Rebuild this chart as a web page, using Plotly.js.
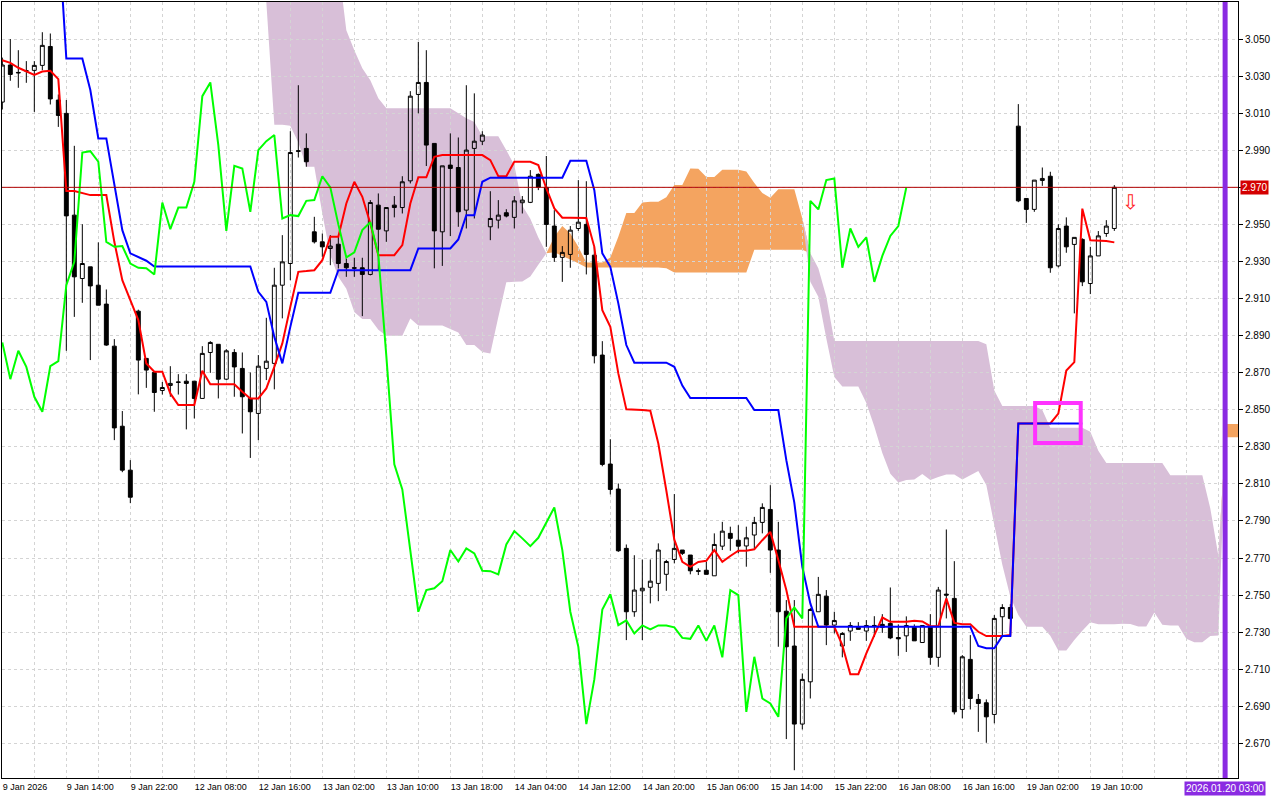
<!DOCTYPE html>
<html>
<head>
<meta charset="utf-8">
<script src="https://cdn.plot.ly/plotly-3.0.1.min.js"></script>
<style>
html,body{margin:0;padding:0;background:#fff;}
#chart{width:1280px;height:800px;}
</style>
</head>
<body>
<div id="chart"></div>
<script>
// ---------- data (H1 bars, index 0 = 9 Jan 2026) ----------
const timeLabels = ["9 Jan 2026","9 Jan 14:00","9 Jan 22:00","12 Jan 08:00","12 Jan 16:00","13 Jan 02:00",
  "13 Jan 10:00","13 Jan 18:00","14 Jan 04:00","14 Jan 12:00","14 Jan 20:00","15 Jan 06:00",
  "15 Jan 14:00","15 Jan 22:00","16 Jan 08:00","16 Jan 16:00","19 Jan 02:00","19 Jan 10:00"];

const priceTicks = [2.67,2.69,2.71,2.73,2.75,2.77,2.79,2.81,2.83,2.85,2.87,2.89,2.91,2.93,2.95,2.97,2.99,3.01,3.03,3.05];
// 2.970 is shown by the red current-price label instead of a plain tick label
const priceTickText = ["2.670","2.690","2.710","2.730","2.750","2.770","2.790","2.810","2.830","2.850","2.870","2.890","2.910","2.930","2.950","","2.990","3.010","3.030","3.050"];

const openP = [
 3.016,3.036,3.032,3.0329,3.0331,3.0358,3.0460,3.0171,3.0099,2.9550,
 2.9208,2.9271,2.9172,2.9070,2.8843,2.8411,2.8174,2.9032,2.8777,2.8701,
 2.8604,2.8631,2.8650,2.8654,2.8654,2.8561,2.8809,2.8853,2.8665,2.8809,
 2.8723,2.8561,2.8480,2.8723,2.8750,2.9172,2.9289,2.9897,2.9910,2.9460,
 2.9406,2.9370,2.9393,2.9289,2.9266,2.9266,2.9230,2.9604,2.9465,2.9604,
 2.9591,2.9735,3.0201,3.0266,2.9937,2.9460,2.9820,2.9807,2.9577,2.9910,
 2.9949,2.9487,2.9523,2.9563,2.9538,2.9617,2.9619,2.9770,2.9700,2.9491,
 2.9322,2.9338,2.9478,2.9500,2.9334,2.8795,2.8207,2.8072,2.7752,2.7410,
 2.7523,2.7542,2.7563,2.7612,2.7692,2.7743,2.7716,2.7631,2.7634,2.7604,
 2.7764,2.7833,2.7796,2.7765,2.7824,2.7892,2.7962,2.7743,2.7413,2.7225,
 2.6804,2.7032,2.7410,2.7494,2.7338,2.7225,2.7306,2.7326,2.7306,2.7336,
 2.7342,2.7347,2.7271,2.7280,2.7326,2.7244,2.7329,2.7164,2.7505,2.7482,
 2.6883,2.7153,2.6937,2.6919,2.6856,2.7383,2.7433,3.0030,2.9640,2.9581,
 2.9737,2.9760,2.9276,2.9491,2.9392,2.9419,2.9181,2.9330,2.9451,2.9478];

const highP = [
 3.040,3.0500,3.0440,3.0381,3.0381,3.0537,3.0530,3.0201,3.0171,2.9924,
 2.9501,2.9271,2.9403,2.9149,2.8881,2.8493,2.8228,2.9040,2.8777,2.8701,
 2.8650,2.8735,2.8692,2.8692,2.8654,2.8843,2.8870,2.8853,2.8827,2.8827,
 2.8809,2.8701,2.8795,2.8996,2.9266,2.9442,3.0003,3.0251,2.9991,2.9541,
 2.9451,2.9442,2.9433,2.9316,2.9320,2.9320,2.9631,2.9667,2.9591,2.9653,
 2.9760,3.0219,3.0485,3.0440,2.9937,2.9816,2.9991,2.9969,3.0251,3.0207,
 3.0003,2.9679,2.9631,2.9582,2.9653,2.9653,2.9793,2.9775,2.9869,2.9577,
 2.9383,2.9491,2.9739,2.9733,2.9379,2.8870,2.8341,2.8102,2.7773,2.7715,
 2.7692,2.7692,2.7779,2.7690,2.8045,2.7743,2.7716,2.7644,2.7679,2.7833,
 2.7895,2.7869,2.7877,2.7869,2.7922,2.7995,2.8093,2.7895,2.7473,2.7473,
 2.7077,2.7430,2.7598,2.7527,2.7410,2.7300,2.7354,2.7354,2.7365,2.7386,
 2.7397,2.7541,2.7342,2.7385,2.7342,2.7336,2.7397,2.7544,2.7854,2.7683,
 2.7176,2.7284,2.6966,2.6937,2.7392,2.7451,2.7451,3.0149,2.9640,2.9739,
 2.9807,2.9784,2.9501,2.9538,2.9430,2.9425,2.9379,2.9464,2.9523,2.9712];

const lowP = [
 3.012,3.0275,3.0237,3.0264,3.0107,3.0332,3.0147,3.0026,2.8818,2.9001,
 2.9077,2.8768,2.9064,2.8845,2.8336,2.8163,2.7996,2.8583,2.8618,2.8489,
 2.8582,2.8570,2.8582,2.8394,2.8453,2.8561,2.8699,2.8561,2.8660,2.8570,
 2.8372,2.8240,2.8336,2.8660,2.8610,2.8993,2.9199,2.9861,2.9811,2.9397,
 2.9325,2.9280,2.9262,2.9217,2.9217,2.9005,2.9225,2.9253,2.9406,2.9538,
 2.9559,2.9721,3.0099,2.9815,2.9263,2.9276,2.9437,2.9487,2.9478,2.9532,
 2.9928,2.9415,2.9478,2.9538,2.9478,2.9559,2.9615,2.9685,2.9379,2.9298,
 2.9190,2.9266,2.9465,2.9230,2.8750,2.8195,2.8043,2.7733,2.7257,2.7383,
 2.7257,2.7455,2.7467,2.7523,2.7671,2.7716,2.7612,2.7608,2.7612,2.7604,
 2.7743,2.7739,2.7725,2.7653,2.7748,2.7833,2.7620,2.7221,2.6723,2.6555,
 2.6775,2.6942,2.7410,2.7230,2.7293,2.7164,2.7253,2.7315,2.7253,2.7274,
 2.7296,2.7262,2.7172,2.7193,2.7253,2.7244,2.7124,2.7113,2.7374,2.6856,
 2.6835,2.6883,2.6762,2.6703,2.6808,2.7274,2.7365,2.9620,2.9508,2.9568,
 2.9708,2.9239,2.9268,2.9347,2.9020,2.9167,2.9124,2.9330,2.9433,2.9465];

const closeP = [
 3.0360,3.0309,3.0318,3.0329,3.0358,3.0466,3.0177,3.0088,2.9546,2.9217,
 2.9289,2.9168,2.9064,2.8849,2.8402,2.8174,2.8028,2.8768,2.8714,2.8593,
 2.8620,2.8642,2.8648,2.8642,2.8561,2.8804,2.8863,2.8665,2.8818,2.8731,
 2.8570,2.8489,2.8735,2.8762,2.9172,2.9298,2.9888,2.9895,2.9838,2.9406,
 2.9379,2.9383,2.9289,2.9266,2.9264,2.9230,2.9618,2.9474,2.9591,2.9591,
 2.9730,3.0192,3.0266,2.9928,2.9465,2.9816,2.9802,2.9568,2.9901,2.9949,
 2.9982,2.9532,2.9550,2.9545,2.9627,2.9631,2.9760,2.9700,2.9500,2.9322,
 2.9349,2.9469,2.9512,2.9338,2.8791,2.8205,2.8070,2.7739,2.7410,2.7527,
 2.7537,2.7575,2.7743,2.7681,2.7752,2.7725,2.7631,2.7629,2.7612,2.7773,
 2.7845,2.7806,2.7764,2.7809,2.7892,2.7973,2.7743,2.7410,2.7221,2.6804,
 2.7045,2.7422,2.7504,2.7338,2.7363,2.7293,2.7336,2.7315,2.7336,2.7336,
 2.7326,2.7269,2.7264,2.7336,2.7253,2.7336,2.7164,2.7527,2.7500,2.6870,
 2.7167,2.6942,2.6915,2.6843,2.7374,2.7433,2.7374,2.9627,2.9581,2.9739,
 2.9748,2.9266,2.9478,2.9379,2.9430,2.9190,2.9330,2.9438,2.9491,2.9700];

// Tenkan-sen (red), one value per bar 0..139
const tenkan = [
 3.0386,3.0372,3.0345,3.0327,3.0307,3.0325,3.0329,3.0284,2.9680,2.9680,
 2.9668,2.9658,2.9658,2.9658,2.9406,2.9199,2.9091,2.8984,2.8750,2.8705,
 2.8705,2.8588,2.8525,2.8525,2.8525,2.8710,2.8637,2.8637,2.8637,2.8637,
 2.8597,2.8561,2.8561,2.8615,2.8731,2.8858,2.9055,2.9244,2.9248,2.9253,
 2.9307,2.9433,2.9433,2.9613,2.9730,2.9649,2.9505,2.9334,2.9334,2.9334,
 2.9388,2.9613,2.9754,2.9754,2.9865,2.9874,2.9874,2.9874,2.9874,2.9874,
 2.9874,2.9847,2.9760,2.9760,2.9838,2.9838,2.9838,2.9820,2.9694,2.9586,
 2.9536,2.9536,2.9536,2.9534,2.9379,2.9037,2.8947,2.8696,2.8502,2.8498,
 2.8498,2.8495,2.8318,2.8064,2.7799,2.7679,2.7652,2.7679,2.7685,2.7743,
 2.7679,2.7711,2.7739,2.7739,2.7747,2.7796,2.7841,2.7689,2.7527,2.7329,
 2.7329,2.7329,2.7329,2.7329,2.7329,2.7230,2.7073,2.7073,2.7185,2.7284,
 2.7379,2.7356,2.7356,2.7356,2.7361,2.7358,2.7332,2.7332,2.7482,2.7350,
 2.7343,2.7343,2.7302,2.7279,2.7279,2.7279,2.7285,2.8426,2.8426,2.8426,
 2.8426,2.8426,2.8479,2.8712,2.8757,2.9585,2.9414,2.9414,2.9411,2.9403];

// Kijun-sen (blue), bars 0..135
const kijun = [
 3.1100,3.1100,3.1100,3.1100,3.1100,3.1100,3.1100,3.1100,3.0395,3.0395,
 3.0395,3.0225,2.9964,2.9964,2.9712,2.9469,2.9344,2.9322,2.9304,2.9273,
 2.9273,2.9273,2.9273,2.9273,2.9273,2.9273,2.9273,2.9273,2.9273,2.9273,
 2.9273,2.9273,2.9136,2.9082,2.8893,2.8750,2.8947,2.9131,2.9131,2.9131,
 2.9131,2.9131,2.9253,2.9253,2.9253,2.9253,2.9253,2.9253,2.9253,2.9253,
 2.9253,2.9253,2.9370,2.9370,2.9370,2.9370,2.9370,2.9419,2.9550,2.9550,
 2.9730,2.9752,2.9752,2.9752,2.9752,2.9752,2.9752,2.9752,2.9752,2.9752,
 2.9752,2.9843,2.9843,2.9843,2.9685,2.9344,2.9271,2.9074,2.8849,2.8754,
 2.8754,2.8754,2.8754,2.8754,2.8732,2.8630,2.8563,2.8563,2.8563,2.8563,
 2.8563,2.8563,2.8563,2.8563,2.8498,2.8498,2.8498,2.8498,2.8228,2.7999,
 2.7652,2.7455,2.7329,2.7329,2.7329,2.7329,2.7329,2.7329,2.7329,2.7329,
 2.7329,2.7329,2.7329,2.7329,2.7329,2.7329,2.7329,2.7329,2.7329,2.7329,
 2.7329,2.7329,2.7225,2.7213,2.7213,2.7279,2.7279,2.8426,2.8426,2.8426,
 2.8426,2.8426,2.8426,2.8426,2.8426,2.8426];

// Chikou span (lime), bars 0..113
const chikou = [
 2.8863,2.8665,2.8818,2.8731,2.8570,2.8489,2.8735,2.8762,2.9172,2.9298,
 2.9888,2.9895,2.9838,2.9406,2.9379,2.9383,2.9289,2.9266,2.9264,2.9230,
 2.9618,2.9474,2.9591,2.9591,2.9730,3.0192,3.0266,2.9928,2.9465,2.9816,
 2.9802,2.9568,2.9901,2.9949,2.9982,2.9532,2.9550,2.9545,2.9627,2.9631,
 2.9760,2.9700,2.9500,2.9322,2.9349,2.9469,2.9512,2.9338,2.8791,2.8205,
 2.8070,2.7739,2.7410,2.7527,2.7537,2.7575,2.7743,2.7681,2.7752,2.7725,
 2.7631,2.7629,2.7612,2.7773,2.7845,2.7806,2.7764,2.7809,2.7892,2.7973,
 2.7743,2.7410,2.7221,2.6804,2.7045,2.7422,2.7504,2.7338,2.7363,2.7293,
 2.7336,2.7315,2.7336,2.7336,2.7326,2.7269,2.7264,2.7336,2.7253,2.7336,
 2.7164,2.7527,2.7500,2.6870,2.7167,2.6942,2.6915,2.6843,2.7374,2.7433,
 2.7374,2.9627,2.9581,2.9739,2.9748,2.9266,2.9478,2.9379,2.9430,2.9190,
 2.9330,2.9438,2.9491,2.9700];

// Kumo: Senkou span A and B, bars 30..155
const cloudStart = 30;
const senkouA = [
 3.0704,3.0713,3.0715,3.0700,3.0038,3.0038,3.0032,2.9942,2.9811,2.9811,
 2.9559,2.9334,2.9218,2.9153,2.9027,2.8989,2.8989,2.8931,2.8899,2.8899,
 2.8899,2.8992,2.8955,2.8955,2.8955,2.8955,2.8935,2.8917,2.8849,2.8849,
 2.8812,2.8804,2.9001,2.9188,2.9190,2.9192,2.9219,2.9282,2.9343,2.9433,
 2.9492,2.9451,2.9379,2.9294,2.9294,2.9294,2.9321,2.9433,2.9562,2.9562,
 2.9618,2.9622,2.9622,2.9647,2.9712,2.9712,2.9802,2.9800,2.9756,2.9756,
 2.9795,2.9795,2.9795,2.9786,2.9723,2.9669,2.9644,2.9690,2.9690,2.9689,
 2.9532,2.9191,2.9109,2.8885,2.8676,2.8626,2.8626,2.8625,2.8536,2.8409,
 2.8266,2.8155,2.8108,2.8121,2.8124,2.8153,2.8121,2.8137,2.8151,2.8151,
 2.8123,2.8147,2.8170,2.8094,2.7878,2.7664,2.7491,2.7392,2.7329,2.7329,
 2.7329,2.7280,2.7201,2.7201,2.7257,2.7307,2.7354,2.7343,2.7343,2.7343,
 2.7345,2.7344,2.7331,2.7331,2.7406,2.7340,2.7336,2.7336,2.7264,2.7246,
 2.7246,2.7279,2.7282,2.8423,2.8423,2.8423];
const senkouB = [
 3.0900,3.0900,3.0900,3.0900,3.0900,3.0900,3.0900,3.0900,3.0900,3.0900,
 3.0900,3.0900,3.0900,3.0548,3.0440,3.0343,3.0278,3.0181,3.0127,3.0127,
 3.0127,3.0127,3.0127,3.0127,3.0127,3.0127,3.0127,3.0100,3.0073,3.0053,
 2.9976,2.9976,2.9976,2.9900,2.9820,2.9600,2.9530,2.9430,2.9345,2.9350,
 2.9330,2.9310,2.9290,2.9267,2.9267,2.9267,2.9267,2.9267,2.9267,2.9267,
 2.9267,2.9267,2.9267,2.9263,2.9241,2.9241,2.9241,2.9241,2.9241,2.9241,
 2.9241,2.9241,2.9241,2.9241,2.9363,2.9363,2.9363,2.9363,2.9363,2.9363,
 2.9363,2.9345,2.9264,2.9109,2.8871,2.8871,2.8871,2.8871,2.8871,2.8871,
 2.8871,2.8871,2.8871,2.8871,2.8871,2.8871,2.8871,2.8871,2.8871,2.8871,
 2.8871,2.8871,2.8871,2.8853,2.8604,2.8520,2.8520,2.8520,2.8520,2.8520,
 2.8498,2.8403,2.8403,2.8403,2.8403,2.8403,2.8381,2.8279,2.8212,2.8212,
 2.8212,2.8212,2.8212,2.8212,2.8212,2.8212,2.8147,2.8147,2.8147,2.8147,
 2.8147,2.7967,2.7713,2.8352,2.8352,2.8352];

const currentPrice = 2.970;

// ---------- build ----------
const idx = n => Array.from({length:n}, (_, i) => i);
const barX = idx(openP.length);
const cloudX = senkouA.map((_, i) => cloudStart + i);
const cloudTop = senkouA.map((a, i) => Math.max(a, senkouB[i]));

// closed area between a lower and an upper boundary, in data units of the x/y axes
function bandPath(xs, lower, upper) {
  let d = '';
  for (let i = 0; i < xs.length; i++) d += (i ? 'L' : 'M') + xs[i] + ',' + lower[i];
  for (let i = xs.length - 1; i >= 0; i--) d += 'L' + xs[i] + ',' + upper[i];
  return d + 'Z';
}

const gridVals = [], gridText = [];
for (let b = 0; b <= 152; b += 4) {
  gridVals.push(b);
  const k = b / 8;
  gridText.push(Number.isInteger(k) && k < timeLabels.length ? timeLabels[k] : "");
}

const traces = [
  {type:'candlestick', x:barX, open:openP, high:highP, low:lowP, close:closeP,
   increasing:{line:{color:'#000000', width:1}, fillcolor:'rgba(255,255,255,0)'},
   decreasing:{line:{color:'#000000', width:1}, fillcolor:'#000000'},
   whiskerwidth:0, hoverinfo:'skip', showlegend:false},
  {x:idx(tenkan.length), y:tenkan, mode:'lines', line:{color:'#FF0000', width:2}, hoverinfo:'skip', showlegend:false},
  {x:idx(kijun.length), y:kijun, mode:'lines', line:{color:'#0000FF', width:2}, hoverinfo:'skip', showlegend:false},
  {x:idx(chikou.length), y:chikou, mode:'lines', line:{color:'#00FF00', width:2}, hoverinfo:'skip', showlegend:false}
];

const gridStyle = {showgrid:true, gridcolor:'#d4d4d4', gridwidth:1, griddash:'3px,3px'};
const layout = {
  width:1280, height:800,
  margin:{l:2, r:42, t:2, b:22, pad:0},
  paper_bgcolor:'#ffffff', plot_bgcolor:'#ffffff',
  showlegend:false,
  font:{family:'Liberation Sans, Arial, sans-serif', size:10, color:'#000'},
  xaxis:Object.assign({
    type:'linear', range:[-0.04, 154.46], tickmode:'array', tickvals:gridVals, ticktext:gridText,
    ticklabelposition:'outside right', ticks:'', tickfont:{size:9},
    zeroline:false, showline:true, mirror:true, linecolor:'#000', linewidth:1,
    rangeslider:{visible:false}, fixedrange:true
  }, gridStyle),
  yaxis:Object.assign({
    side:'right', range:[2.6513, 3.0700], tickmode:'array', tickvals:priceTicks, ticktext:priceTickText,
    ticks:'outside', ticklen:4, tickcolor:'#000', tickfont:{size:10},
    zeroline:false, showline:true, mirror:true, linecolor:'#000', linewidth:1, fixedrange:true
  }, gridStyle),
  shapes:[
    // Kumo (sandy brown where span A is on top, thistle where span B is on top), under the grid
    {type:'path', xref:'x', yref:'y', layer:'below', path:bandPath(cloudX, senkouB, cloudTop),
     fillcolor:'#F4A460', line:{width:0}},
    {type:'path', xref:'x', yref:'y', layer:'below', path:bandPath(cloudX, senkouA, cloudTop),
     fillcolor:'#D8BFD8', line:{width:0}},
    {type:'line', xref:'paper', x0:0, x1:1, yref:'y', y0:currentPrice, y1:currentPrice, line:{color:'#b00000', width:1}},
    {type:'rect', xref:'x', x0:129.1, x1:134.8, yref:'y', y0:2.8320, y1:2.8536, line:{color:'#ff33ff', width:4}},
    {type:'line', xref:'x', x0:152.85, x1:152.85, yref:'paper', y0:0, y1:1, line:{color:'#8a2be2', width:5}}
  ],
  annotations:[
    {xref:'paper', x:1, xanchor:'left', xshift:2, yref:'y', y:currentPrice, text:'2.970', showarrow:false,
     bgcolor:'#d40000', font:{color:'#ffffff', size:10}, borderpad:1},
    {xref:'x', x:152.85, yref:'paper', y:0, yanchor:'top', yshift:-3, text:'2026.01.20 03:00', showarrow:false,
     bgcolor:'#8a2be2', font:{color:'#ffffff', size:10}, borderpad:1},
    {xref:'x', x:140.96, yref:'y', y:2.962, text:'⇩', showarrow:false, font:{color:'#ff2020', size:20, family:'DejaVu Sans'}}
  ]
};

Plotly.newPlot('chart', traces, layout, {staticPlot:true, displayModeBar:false});
</script>
</body>
</html>
